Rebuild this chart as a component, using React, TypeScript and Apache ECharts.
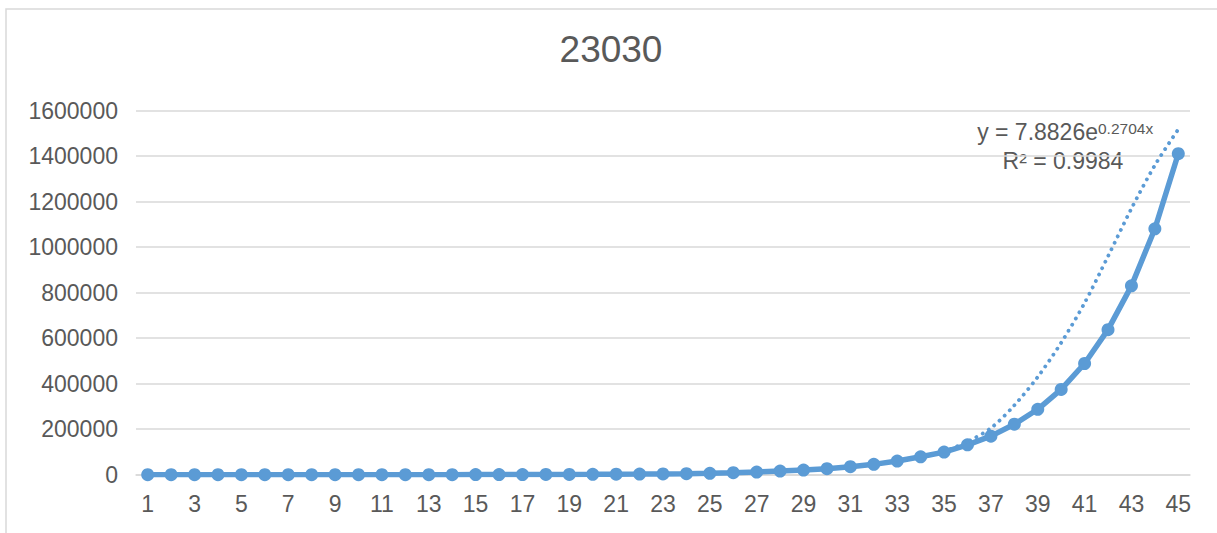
import React, { useEffect, useRef } from "react";
import * as echarts from "echarts";

// Day index along the x axis
const categories: number[] = Array.from({ length: 45 }, (_, i) => i + 1);

// Cumulative count per day
const counts: number[] = [
  9, 12, 16, 21, 28, 37, 48, 63, 83, 109,
  143, 187, 245, 320, 420, 550, 720, 940, 1230, 1600,
  2100, 2750, 3600, 4700, 6100, 8750, 11800, 16200, 20600, 26300,
  35000, 45500, 60000, 78800, 99300, 131300, 169400, 221900, 287500, 375000,
  488800, 637600, 830100, 1080900, 1410800,
];

// Dotted exponential trendline (runs under the data line before day 35)
const trendLine: (number | null)[] = [
  null, null, null, null, null, null, null, null, null, null,
  null, null, null, null, null, null, null, null, null, null,
  null, null, null, null, null, null, null, null, null, null,
  null, null, null, null, 102000, 145000, 205000, 305000, 430000, 580000,
  755000, 960000, 1170000, 1360000, 1518000,
];

// Trendline equation and fit, as printed in the label
const trendEquation = { lead: "y = 7.8826e", exponent: "0.2704x" };
const rSquared = "0.9984";

const yTicks = { min: 0, max: 1600000, interval: 200000 };

const chartTitle = "23030";

const BLUE = "#5B9BD5";
const TEXT = "#595959";
const GRID = "#D9D9D9";
const FONT = "'Liberation Sans', Arial, sans-serif";

export default function App() {
  const ref = useRef<HTMLDivElement>(null);

  useEffect(() => {
    if (!ref.current) return;
    const chart = echarts.init(ref.current, undefined, { renderer: "svg" });

    chart.setOption({
      animation: false,
      backgroundColor: "#ffffff",
      textStyle: { fontFamily: FONT },
      title: {
        text: chartTitle,
        left: 611,
        top: 31,
        textAlign: "center",
        padding: 0,
        textStyle: { fontFamily: FONT, fontSize: 37, fontWeight: "normal", color: TEXT },
      },
      grid: { left: 136, right: 27, top: 110.7, bottom: 58.3, containLabel: false },
      xAxis: {
        type: "category",
        data: categories.map(String),
        boundaryGap: true,
        axisLine: { lineStyle: { color: GRID, width: 1.5 } },
        axisTick: { show: false },
        axisLabel: {
          interval: 1,
          color: TEXT,
          fontSize: 23,
          fontFamily: FONT,
          margin: 18,
        },
      },
      yAxis: {
        type: "value",
        min: yTicks.min,
        max: yTicks.max,
        interval: yTicks.interval,
        axisLine: { show: false },
        axisTick: { show: false },
        splitLine: { lineStyle: { color: GRID, width: 1.5 } },
        axisLabel: {
          color: TEXT,
          fontSize: 23,
          fontFamily: FONT,
          margin: 18,
          formatter: (v: number) => String(v),
        },
      },
      series: [
        {
          name: chartTitle,
          type: "line",
          data: counts,
          symbol: "circle",
          symbolSize: 13,
          itemStyle: { color: BLUE },
          lineStyle: { color: BLUE, width: 5.5 },
          z: 2,
        },
        {
          name: "Expon.",
          type: "line",
          data: trendLine,
          smooth: 0.3,
          connectNulls: false,
          symbol: "none",
          lineStyle: { color: BLUE, width: 3.8, type: [0.1, 7], cap: "round" },
          z: 3,
        },
      ],
      graphic: [
        {
          type: "rect",
          shape: { x: 6, y: 9, width: 1400, height: 700 },
          style: { fill: "none", stroke: GRID, lineWidth: 1.5 },
          silent: true,
        },
        {
          type: "text",
          x: 1098,
          y: 132,
          style: {
            text: trendEquation.lead,
            fill: TEXT,
            font: `23px ${FONT}`,
            align: "right",
            verticalAlign: "middle",
          },
        },
        {
          type: "text",
          x: 1098,
          y: 128,
          style: {
            text: trendEquation.exponent,
            fill: TEXT,
            font: `15.5px ${FONT}`,
            align: "left",
            verticalAlign: "middle",
          },
        },
        {
          type: "text",
          x: 1063,
          y: 161,
          style: {
            text: `R² = ${rSquared}`,
            fill: TEXT,
            font: `23px ${FONT}`,
            align: "center",
            verticalAlign: "middle",
          },
        },
      ],
    });

    return () => chart.dispose();
  }, []);

  return (
    <div
      ref={ref}
      style={{ position: "fixed", left: 0, top: 0, width: 1217, height: 533, background: "#fff" }}
    />
  );
}
